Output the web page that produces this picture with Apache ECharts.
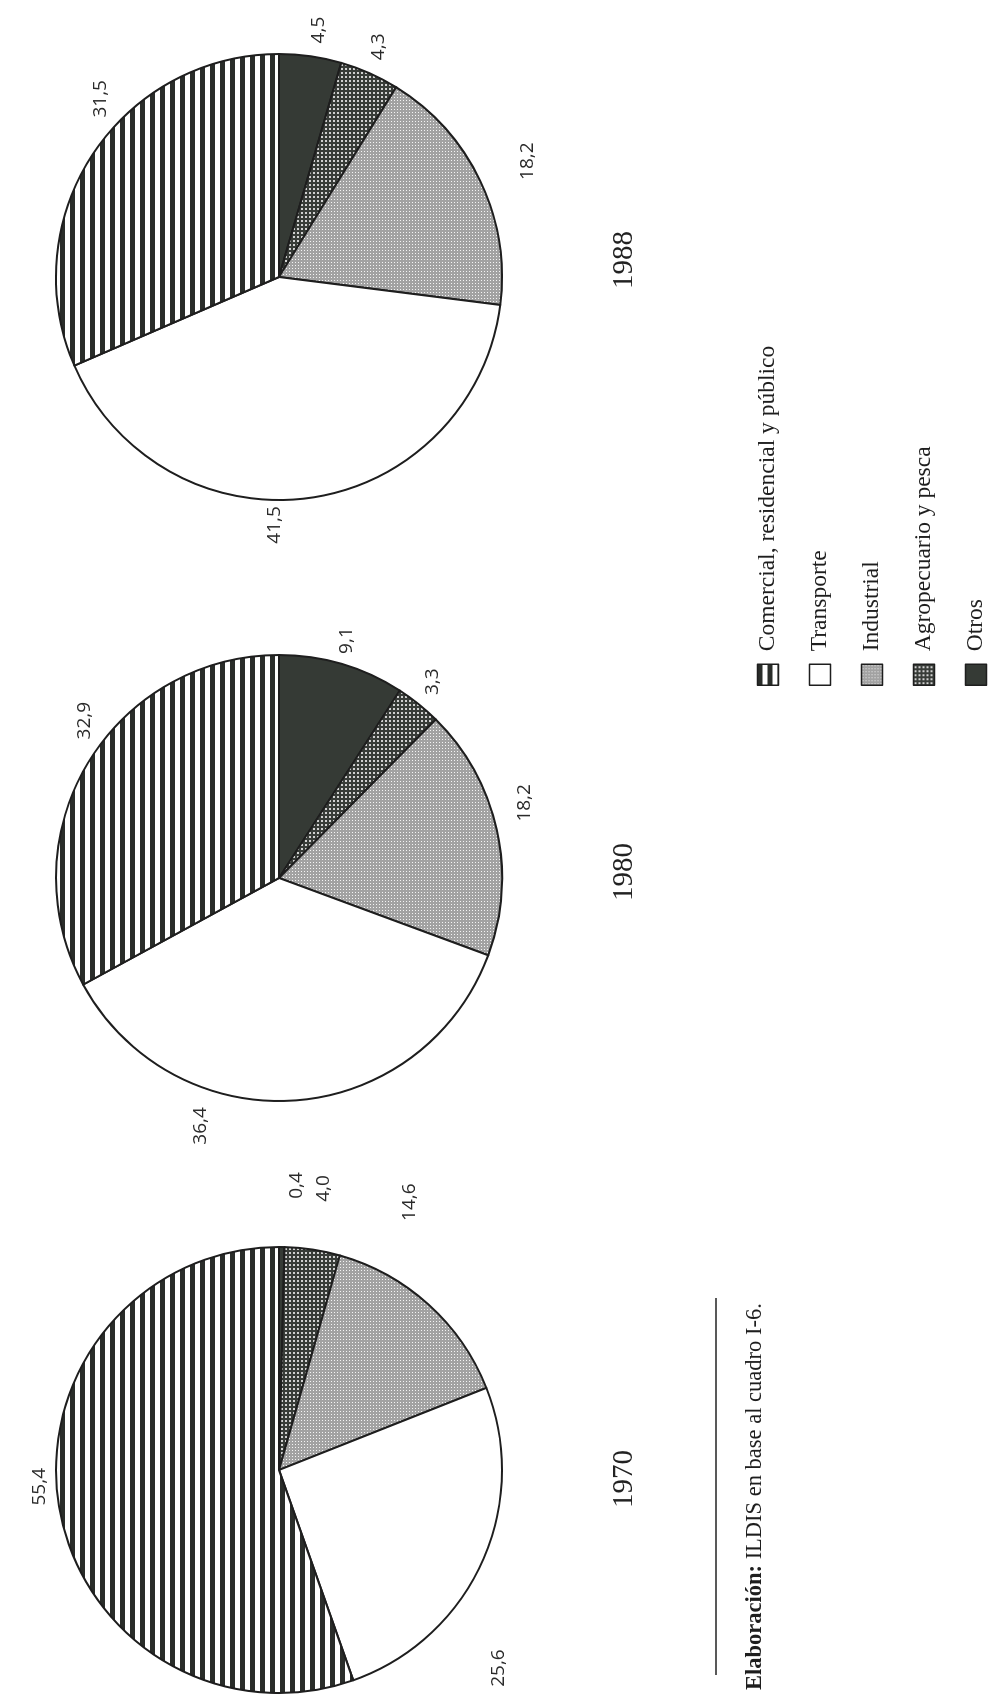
<!DOCTYPE html>
<html>
<head>
<meta charset="utf-8">
<script src="https://cdn.jsdelivr.net/npm/echarts@6/dist/echarts.min.js"></script>
<style>
html,body{margin:0;padding:0;background:#fff;overflow:hidden;width:1001px;height:1695px;}
#chart{position:absolute;left:0;top:0;width:1695px;height:1001px;transform-origin:0 0;transform:rotate(-90deg) translate(-1695px,0);}
</style>
</head>
<body>
<div id="chart"></div>
<script>
// ---- data ----
const categories = ['Comercial, residencial y público', 'Transporte', 'Industrial', 'Agropecuario y pesca', 'Otros'];
const years = ['1970', '1980', '1988'];
const values1970 = [55.4, 25.6, 14.6, 4.0, 0.4];
const values1980 = [32.9, 36.4, 18.2, 3.3, 9.1];
const values1988 = [31.5, 41.5, 18.2, 4.3, 4.5];
const sliceOrder = [4, 3, 2, 1, 0]; // clockwise from the top of each pie: Otros, Agro, Industrial, Transporte, Comercial
const sourceLabel = 'Elaboración:';
const sourceText = ' ILDIS en base al cuadro I-6.';

// ---- patterns ----
function makeCanvas(w, h, draw) {
  const c = document.createElement('canvas');
  c.width = w; c.height = h;
  draw(c.getContext('2d'));
  return c;
}
const stripe = makeCanvas(10, 10, g => {
  g.fillStyle = '#ffffff'; g.fillRect(0, 0, 10, 10);
  g.fillStyle = '#2a2d2a'; g.fillRect(0, 0, 10, 5);
});
const fineDots = makeCanvas(3, 3, g => {
  g.fillStyle = '#a2a2a2'; g.fillRect(0, 0, 3, 3);
  g.fillStyle = '#f4f4f4'; g.fillRect(1, 1, 1, 1);
});
const darkDots = makeCanvas(4, 4, g => {
  g.fillStyle = '#383c38'; g.fillRect(0, 0, 4, 4);
  g.fillStyle = '#d0d0d0'; g.fillRect(1, 1, 2, 2);
});
const fills = [
  { image: stripe, repeat: 'repeat' },
  '#ffffff',
  { image: fineDots, repeat: 'repeat' },
  { image: darkDots, repeat: 'repeat' },
  '#353a35'
];

// ---- layout (unrotated frame; the whole chart is turned 90° like the printed page) ----
const centersU = [225, 817, 1418];
const centerV = 279;
const radius = 223;
const yearLabelU = [216, 823, 1435];
// label placement: [angle clockwise from the pie's start direction (deg), distance from centre (px)] per slice in drawing order
const labelPolar = [
  [[3.5, 285], [9, 285], [26, 298], [132, 296], [266, 240]],
  [[16, 247], [38, 249], [73, 257], [197.5, 260], [309, 250]],
  [[9, 250], [23.5, 251], [65, 274], [181, 248], [315, 252]]
];

const allValues = [values1970, values1980, values1988];
const fmt = v => v.toFixed(1).replace('.', ',');

const series = allValues.map((vals, k) => ({
  type: 'pie',
  name: years[k],
  center: [centersU[k], centerV],
  radius: radius,
  startAngle: 0,
  clockwise: true,
  avoidLabelOverlap: false,
  silent: true,
  animation: false,
  itemStyle: { borderColor: '#1e1e1e', borderWidth: 2 },
  label: {
    show: true,
    position: 'outside',
    formatter: p => fmt(p.value),
    fontFamily: 'Open Sans',
    fontSize: 19,
    color: '#2a2a2a'
  },
  labelLine: { show: false },
  labelLayout: params => {
    const pl = labelPolar[k][params.dataIndex];
    const a = pl[0] * Math.PI / 180;
    return {
      x: centersU[k] + pl[1] * Math.cos(a),
      y: centerV + pl[1] * Math.sin(a),
      align: 'center',
      verticalAlign: 'middle'
    };
  },
  data: sliceOrder.map(i => ({
    name: categories[i],
    value: vals[i],
    itemStyle: { color: fills[i] }
  }))
}));

const graphics = years.map((y, k) => ({
  type: 'text',
  x: yearLabelU[k],
  y: 624,
  style: {
    text: y,
    font: '29px "Liberation Serif"',
    fill: '#222',
    textAlign: 'center',
    textVerticalAlign: 'middle'
  }
}));
graphics.push({
  type: 'line',
  shape: { x1: 20, y1: 716, x2: 397, y2: 716 },
  style: { stroke: '#222', lineWidth: 1.5 }
});
graphics.push({
  type: 'text',
  x: 5,
  y: 755,
  style: {
    text: '{b|' + sourceLabel + '}{n|' + sourceText + '}',
    textVerticalAlign: 'middle',
    rich: {
      b: { font: 'bold 22.5px "Liberation Serif"', fill: '#1e1e1e' },
      n: { font: '22.5px "Liberation Serif"', fill: '#1e1e1e' }
    }
  }
});

const chart = echarts.init(document.getElementById('chart'), null, { renderer: 'canvas' });
chart.setOption({
  backgroundColor: '#ffffff',
  animation: false,
  legend: {
    data: categories,
    orient: 'vertical',
    left: 1004,
    top: 751,
    itemWidth: 21,
    itemHeight: 21,
    itemGap: 28,
    icon: 'rect',
    selectedMode: false,
    itemStyle: { borderColor: '#1e1e1e', borderWidth: 1.5 },
    textStyle: { fontFamily: 'Liberation Serif', fontSize: 23.5, lineHeight: 21, color: '#1e1e1e', padding: [0, 0, 0, 8] }
  },
  series: series,
  graphic: graphics
});
</script>
</body>
</html>
